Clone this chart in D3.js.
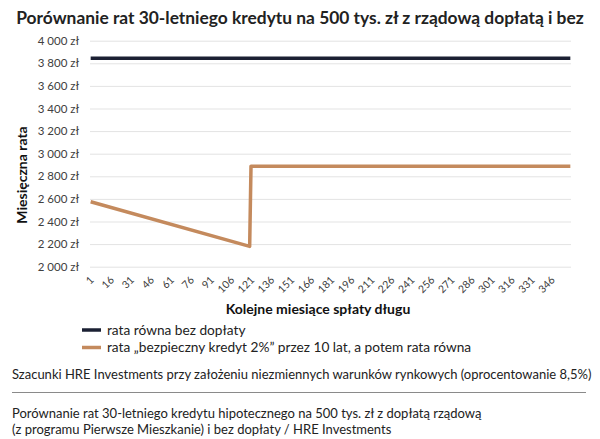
<!DOCTYPE html>
<html><head><meta charset="utf-8">
<script src="https://cdn.jsdelivr.net/npm/d3@7"></script>
<style>body{margin:0;background:#fff}svg{display:block}text{font-family:Lato,"Open Sans",sans-serif}</style>
</head><body><svg id="c" width="600" height="439"></svg>
<script>
const title = "Porównanie rat 30-letniego kredytu na 500 tys. zł z rządową dopłatą i bez";
const seriesNames = ["rata równa bez dopłaty", "rata „bezpieczny kredyt 2%” przez 10 lat, a potem rata równa"];
const flatMonths = [1, 360];
const flatValues = [3845, 3845];
const subsidyMonths = [1, 120, 121, 360];
const subsidyValues = [2575, 2180, 2890, 2890];
const xTickLabels = [1,16,31,46,61,76,91,106,121,136,151,166,181,196,211,226,241,256,271,286,301,316,331,346];
const yTicks = [2000,2200,2400,2600,2800,3000,3200,3400,3600,3800,4000];
const monthCount = 360;
const note = "Szacunki HRE Investments przy założeniu niezmiennych warunków rynkowych (oprocentowanie 8,5%)";
const caption = ["Porównanie rat 30-letniego kredytu hipotecznego na 500 tys. zł z dopłatą rządową", "(z programu Pierwsze Mieszkanie) i bez dopłaty / HRE Investments"];

const svg = d3.select("#c");
const pL = 90, pR = 571, pT = 40.7, pB = 266.7;
const x = d3.scaleBand().domain(d3.range(1, monthCount + 1)).range([pL, pR]);
const xc = m => x(m) + x.bandwidth() / 2;
const y = d3.scaleLinear().domain([2000, 4000]).range([pB, pT]);
const fmt = v => d3.format(",")(v).replace(/,/g, " ") + " zł";

const t = svg.append("text").attr("x", 300).attr("y", 24).attr("text-anchor", "middle")
  .attr("font-size", 18).attr("font-weight", "bold").attr("fill", "#222").text(title);
const tw = t.node().getComputedTextLength();
t.attr("font-size", 18 * 568 / tw);

// gridlines + y labels
const yAxis = d3.axisLeft(y).tickValues(yTicks).tickFormat(fmt).tickSize(-(pR - pL)).tickPadding(11);
const gy = svg.append("g").attr("transform", `translate(${pL},0)`).call(yAxis);
gy.select(".domain").remove();
gy.selectAll(".tick line").attr("stroke", "#e3e3e3").attr("stroke-width", 1);
gy.selectAll(".tick text").attr("font-size", 11.5).attr("fill", "#404040").attr("font-family", "Lato, sans-serif");

// x labels
const xAxis = d3.axisBottom(x).tickValues(xTickLabels).tickSize(0).tickPadding(0);
const gx = svg.append("g").attr("transform", `translate(0,${pB})`).call(xAxis);
gx.select(".domain").remove();
gx.selectAll(".tick text").attr("font-size", 10.5).attr("fill", "#404040")
  .attr("font-family", "Lato, sans-serif")
  .attr("text-anchor", "end").attr("dy", null).attr("y", 0)
  .attr("transform", "translate(4,14) rotate(-45)");

// lines
const line = d3.line().x(d => xc(d[0])).y(d => y(d[1]));
svg.append("path").datum(flatMonths.map((m, i) => [m, flatValues[i]]))
  .attr("d", line).attr("fill", "none").attr("stroke", "#1b2033").attr("stroke-width", 3.5);
svg.append("path").datum(subsidyMonths.map((m, i) => [m, subsidyValues[i]]))
  .attr("d", line).attr("fill", "none").attr("stroke", "#c48a5d").attr("stroke-width", 3.5)
  .attr("stroke-linejoin", "round");

// axis titles
svg.append("text").attr("transform", "translate(27,175) rotate(-90)").attr("text-anchor", "middle")
  .attr("font-size", 14).attr("font-weight", "bold").attr("fill", "#111").text("Miesięczna rata");
svg.append("text").attr("x", 318).attr("y", 314).attr("text-anchor", "middle")
  .attr("font-size", 14).attr("font-weight", "bold").attr("fill", "#111").text("Kolejne miesiące spłaty długu");

// legend
const legColors = ["#1b2033", "#c48a5d"];
seriesNames.forEach((n, i) => {
  const ly = 330 + i * 17.5;
  svg.append("line").attr("x1", 82).attr("x2", 101).attr("y1", ly).attr("y2", ly)
    .attr("stroke", legColors[i]).attr("stroke-width", 3.5);
  svg.append("text").attr("x", 107).attr("y", ly + 4.5).attr("font-size", 13.7).attr("fill", "#222").text(n);
});

// notes
svg.append("text").attr("x", 12).attr("y", 379).attr("font-size", 13).attr("fill", "#222").text(note);
svg.append("line").attr("x1", 12).attr("x2", 586).attr("y1", 392.5).attr("y2", 392.5).attr("stroke", "#8a8a8a").attr("stroke-width", 1);
caption.forEach((c, i) => {
  svg.append("text").attr("x", 12).attr("y", 418 + i * 16).attr("font-size", 13).attr("fill", "#222").text(c);
});
</script></body></html>
